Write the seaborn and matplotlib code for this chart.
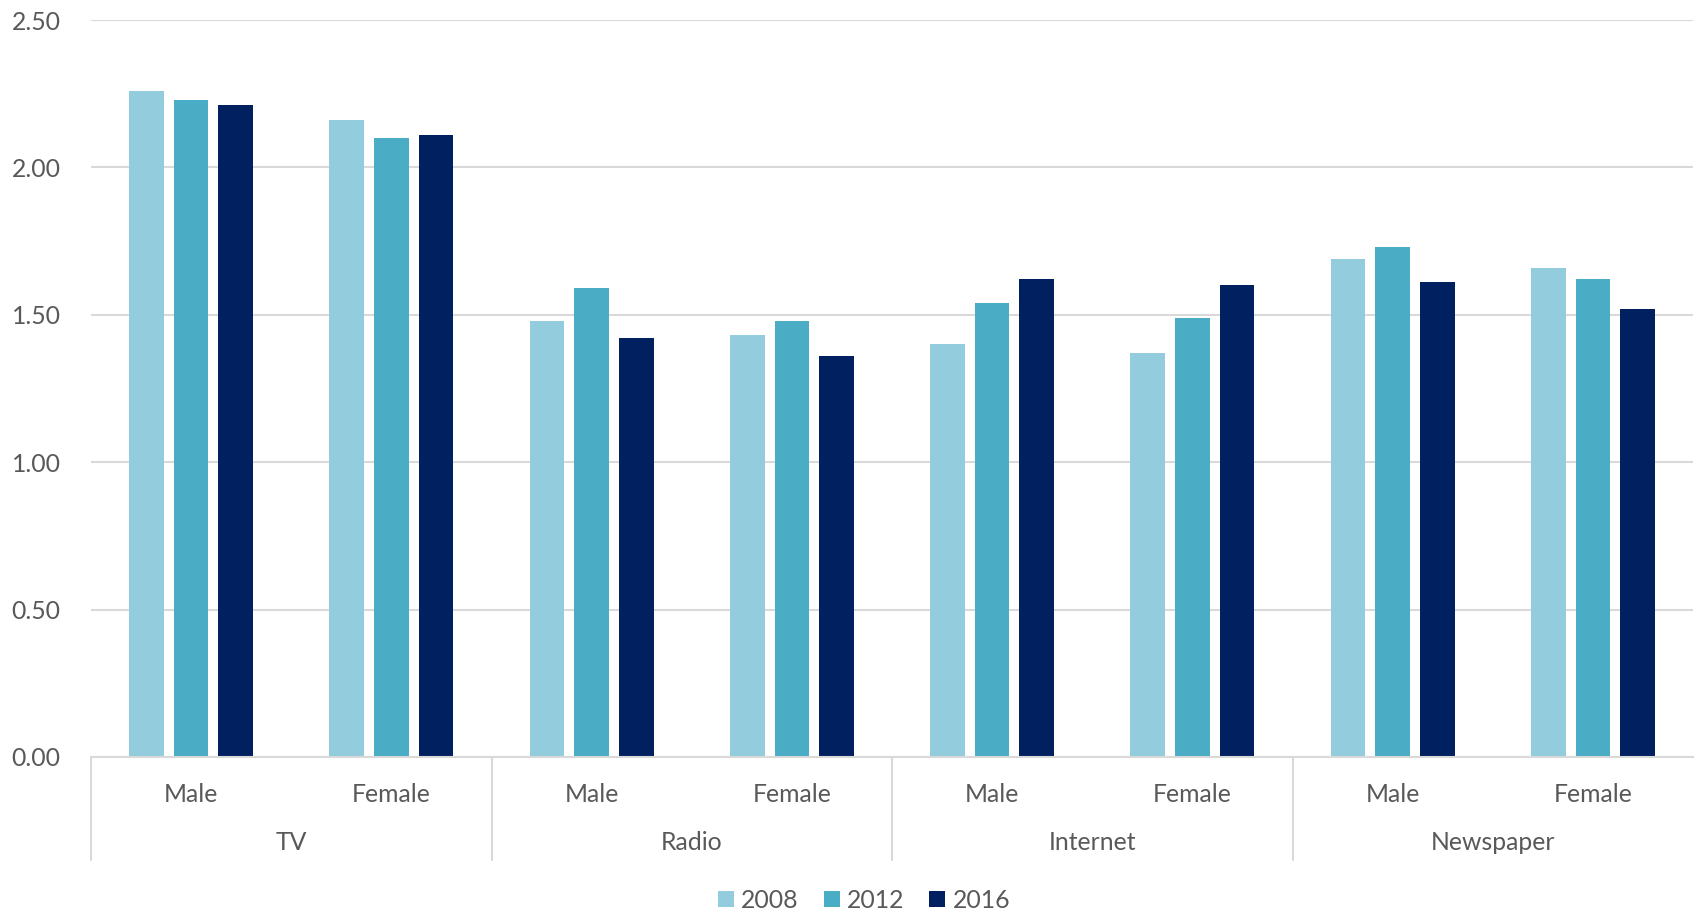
import numpy as np
import pandas as pd
import seaborn as sns
import matplotlib.pyplot as plt
from matplotlib.patches import Patch
from matplotlib.transforms import blended_transform_factory

media = ["TV", "Radio", "Internet", "Newspaper"]
genders = ["Male", "Female"]
years = ["2008", "2012", "2016"]
# values ordered TV-Male, TV-Female, Radio-Male, ... Newspaper-Female
v2008 = [2.26, 2.16, 1.48, 1.43, 1.40, 1.37, 1.69, 1.66]
v2012 = [2.23, 2.10, 1.59, 1.48, 1.54, 1.49, 1.73, 1.62]
v2016 = [2.21, 2.11, 1.42, 1.36, 1.62, 1.60, 1.61, 1.52]
yticks = [0.0, 0.5, 1.0, 1.5, 2.0, 2.5]
colors = ["#93CDDD", "#4BACC6", "#002060"]

text_color = "#595959"
grid_color = "#D9D9D9"
fs = 17.8

groups = [f"{m}|{g}" for m in media for g in genders]
rows = []
for year, vals in zip(years, [v2008, v2012, v2016]):
    for grp, v in zip(groups, vals):
        rows.append({"group": grp, "year": year, "value": v})
df = pd.DataFrame(rows)

sns.set_theme(style="white")
plt.rcParams["font.family"] = ["Lato", "DejaVu Sans"]

fig = plt.figure(figsize=(16.98, 9.14), dpi=100)
ax = fig.add_axes([91 / 1698, 1 - 757 / 914, (1693 - 91) / 1698, (757 - 20) / 914])

sns.barplot(data=df, x="group", y="value", hue="year", order=groups,
            hue_order=years, palette=colors, saturation=1, width=0.667,
            gap=0.22, legend=False, ax=ax, linewidth=0)

ax.set_xlim(-0.5, len(groups) - 0.5)
ax.set_ylim(0, 2.5)
ax.set_yticks(yticks)
ax.set_yticklabels([f"{t:.2f}" for t in yticks], color=text_color, fontsize=fs)
ax.tick_params(axis="y", length=0, pad=22)
ax.yaxis.grid(True, color=grid_color, linewidth=1.5)
ax.set_axisbelow(True)

ax.set_xticks(range(len(groups)))
ax.set_xticklabels([g.split("|")[1] for g in groups], color=text_color, fontsize=fs)
ax.tick_params(axis="x", length=0, pad=19)
ax.set_xlabel("")
ax.set_ylabel("")

for s in ["top", "right", "left"]:
    ax.spines[s].set_visible(False)
ax.spines["bottom"].set_color(grid_color)
ax.spines["bottom"].set_linewidth(1.5)

# category separators and medium labels beneath the tick labels
trans = blended_transform_factory(ax.transData, ax.transAxes)
sep_bottom = -(860 - 757) / (757 - 20)
for i in range(len(media)):
    x0 = i * len(genders) - 0.5
    ax.plot([x0, x0], [0, sep_bottom], transform=trans, color=grid_color,
            linewidth=1.5, clip_on=False)
    ax.text(x0 + len(genders) / 2, -(843 - 757) / (757 - 20), media[i],
            transform=trans, ha="center", va="center", color=text_color,
            fontsize=fs)

handles = [Patch(facecolor=c, edgecolor="none") for c in colors]
leg = fig.legend(handles, years, loc="center", bbox_to_anchor=(864 / 1698, 1 - 900 / 914),
                 ncol=3, frameon=False, fontsize=fs, handlelength=0.65,
                 handleheight=0.65, handletextpad=0.3, columnspacing=1.0)
for t in leg.get_texts():
    t.set_color(text_color)

fig.savefig("out.png", dpi=100, facecolor="white")
